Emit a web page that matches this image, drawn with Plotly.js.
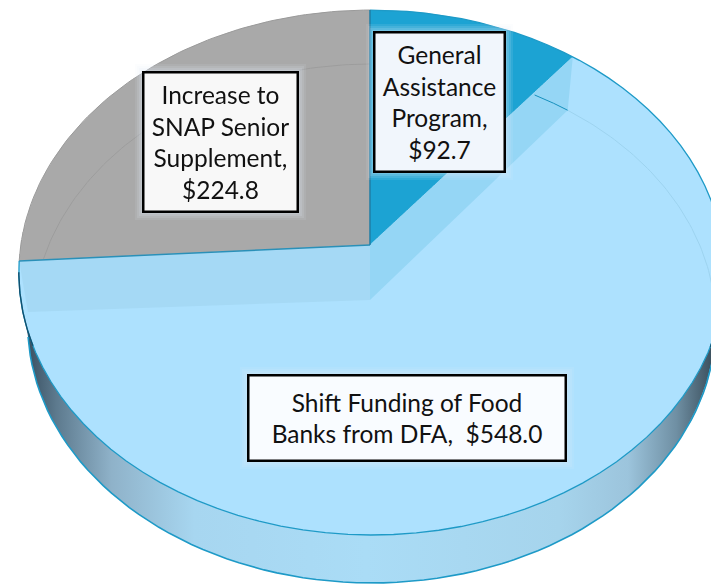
<!DOCTYPE html>
<html>
<head>
<meta charset="utf-8">
<script src="https://cdn.plot.ly/plotly-3.0.1.min.js"></script>
<style>
html,body{margin:0;padding:0;width:711px;height:584px;overflow:hidden;background:#fff}
#pie{position:absolute;left:0;top:0;width:800px;height:800px;transform-origin:0 0}
#over{position:absolute;left:0;top:0;width:711px;height:584px}
</style>
</head>
<body>
<div id="pie"></div>
<div id="over"></div>
<script>
// Data, clockwise from 12 o'clock
var categories = ["General Assistance Program", "Shift Funding of Food Banks from DFA", "Increase to SNAP Senior Supplement"];
var values = [92.7, 548.0, 224.8];
var sliceColors = ["#1ca3d3", "#ade1fe", "#a9a9a9"];
var labelLines = [
  "General<br>Assistance<br>Program,<br>$92.7",
  "Shift Funding of Food<br>Banks from DFA,&nbsp; $548.0",
  "Increase to<br>SNAP Senior<br>Supplement,<br>$224.8"
];

// Perspective projection of the unit disc on to the page
var P = {cx:370, cy:245, A:351, B:259.6, k:0.1048, m:-0.005};
function rim(t){
  var X=Math.sin(t), Y=Math.cos(t), w=1+P.k*Y+P.m*X;
  return [P.cx+P.A*X/w, P.cy-P.B*Y/w];
}
function ringS(t,sx){
  var p=rim(t);
  return [P.cx+(p[0]-P.cx)*sx, P.cy+51.3+(p[1]-P.cy)*0.9886];
}
function ring(t){ return ringS(t,0.975); }  // lower edge of the disc
function ringGray(t){ return ringS(t,0.96); }
function arc(fn,a,b){
  var xs=[],ys=[],n=80;
  for(var i=0;i<=n;i++){var p=fn(a+(b-a)*i/n);xs.push(p[0]);ys.push(p[1]);}
  return {x:xs,y:ys};
}
var total=values.reduce(function(s,v){return s+v;},0);
var a1=values[0]/total*2*Math.PI;
var a2=(values[0]+values[1])/total*2*Math.PI;
var TAU=2*Math.PI;
var deg=Math.PI/180;

// Pie trace, tilted with a homography
Plotly.newPlot('pie',[{
  type:'pie',values:values,labels:categories,sort:false,direction:'clockwise',rotation:0,
  marker:{colors:sliceColors,line:{width:0}},textinfo:'none',hoverinfo:'skip'
}],{width:800,height:800,margin:{l:0,r:0,t:0,b:0},showlegend:false,
    paper_bgcolor:'rgba(0,0,0,0)'},{staticPlot:true,displayModeBar:false});
(function(){
  var S=400,g=P.m/S,h=-P.k/S,i=1+P.k-P.m;
  var a=P.cx*g+P.A/S,b=P.cx*h,c=P.cx*i-P.A;
  var d=P.cy*g,e=P.cy*h+P.B/S,f=P.cy*i-P.B;
  document.getElementById('pie').style.transform=
    'matrix3d('+[a,d,0,g,b,e,0,h,0,0,1,0,c,f,0,i].join(',')+')';
})();

function poly(pts,fill,extra){
  var t={type:'scatter',mode:'lines',x:pts.x,y:pts.y,fill:'toself',fillcolor:fill,
         line:{width:0},hoverinfo:'skip'};
  for(var k in extra||{})t[k]=extra[k];
  return t;
}
function stroke(pts,color,w){
  return {type:'scatter',mode:'lines',x:pts.x,y:pts.y,line:{color:color,width:w},hoverinfo:'skip'};
}
function concat(p,q){return {x:p.x.concat(q.x),y:p.y.concat(q.y)};}

var apex=[P.cx,P.cy];
var apexLow=[P.cx,P.cy+55];
function pt(p){return {x:[p[0]],y:[p[1]]};}

// outer wall
var wallTop=arc(rim,108*deg,252*deg);
var wallBot=arc(ring,261*deg,99*deg);
var wall=poly(concat(wallTop,wallBot),'#a8d8f2',{
  fillgradient:{type:'horizontal',start:22,stop:711,colorscale:[
    [0,'#33495a'],[0.05,'#5d7a8e'],[0.13,'#8fb2c9'],[0.25,'#a7d6f0'],[0.5,'#aadcf6'],
    [0.78,'#a6d4ec'],[0.88,'#9cc4dc'],[0.95,'#6f8fa3'],[1,'#3d5260']]}
});

// translucent cut faces seen through the light slice
var faceLeft=[pt(apex),pt(rim(a2)),pt(ring(a2)),pt(apexLow)].reduce(concat);
var faceRight=[pt(apex),pt(rim(a1)),pt(ring(a1)),pt(apexLow)].reduce(concat);

var traces=[
  wall,
  poly(faceLeft,'#a5d9f5'),
  poly(faceRight,'#95d6f5'),
  stroke(arc(ringGray,278.5*deg,TAU),'#9d9d9d',1),
  stroke(arc(ring,0.55,a1),'#1690bd',1),
  stroke(arc(ring,a1,118*deg),'#9dd3ef',1),
  stroke(arc(rim,a2,TAU),'#9a9a9a',1),
  stroke(arc(rim,0,a2),'#1e9ac7',1.3),
  stroke(arc(ring,99*deg,261*deg),'#1e9ac7',1.6),
  stroke(arc(rim,96*deg,112*deg),'#12506f',1.4),
  stroke(arc(rim,248*deg,264*deg),'#12506f',1.4),
  stroke({x:[apex[0],rim(a2)[0]],y:[apex[1],rim(a2)[1]]},'#2a90b8',1.5),
  stroke({x:[apex[0],apex[0]],y:[apex[1],rim(0)[1]]},'#1f7ea6',1.5)
];

// label boxes
var boxes=[
  {i:0,x0:374,x1:505,y0:32,y1:172,bg:'#f1f6fc'},
  {i:1,x0:248,x1:566,y0:375,y1:461,bg:'#f9fcff'},
  {i:2,x0:143,x1:298,y0:72,y1:212,bg:'#f8f8f8'}
];
var shapes=[],annotations=[];
boxes.forEach(function(b){
  [[8,0.10],[6,0.12],[4,0.15],[2,0.18]].forEach(function(g){
    shapes.push({type:'rect',xref:'x',yref:'y',x0:b.x0-g[0],x1:b.x1+g[0],y0:b.y0-g[0],y1:b.y1+g[0],
      fillcolor:'rgba(222,232,246,'+g[1]+')',line:{width:0},layer:'above'});
  });
  annotations.push({xref:'x',yref:'y',x:(b.x0+b.x1)/2,y:(b.y0+b.y1)/2,xanchor:'center',yanchor:'middle',
    text:labelLines[b.i],showarrow:false,align:'center',
    width:b.x1-b.x0-3,height:b.y1-b.y0-3,bgcolor:b.bg,bordercolor:'#000',borderwidth:2.5,borderpad:0,
    font:{family:'Lato, Carlito, sans-serif',size:24.5,color:'#111'}});
});

Plotly.newPlot('over',traces,{
  width:711,height:584,margin:{l:0,r:0,t:0,b:0},showlegend:false,
  paper_bgcolor:'rgba(0,0,0,0)',plot_bgcolor:'rgba(0,0,0,0)',
  xaxis:{range:[0,711],visible:false,fixedrange:true},
  yaxis:{range:[584,0],visible:false,fixedrange:true},
  shapes:shapes,annotations:annotations
},{staticPlot:true,displayModeBar:false});
</script>
</body>
</html>
